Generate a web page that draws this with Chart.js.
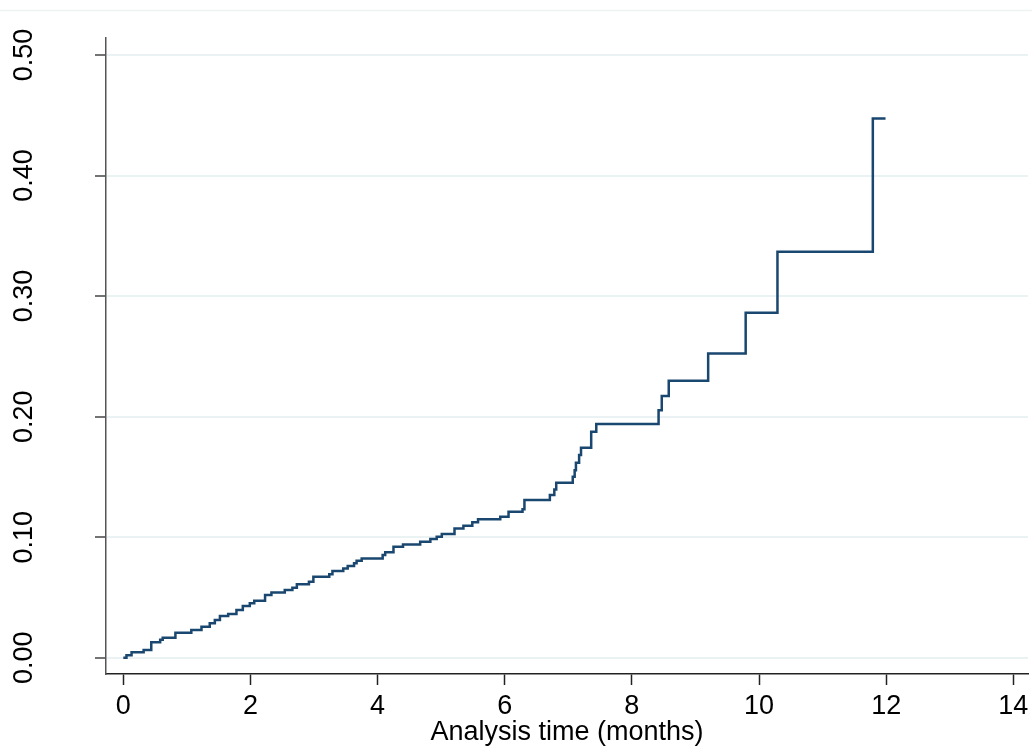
<!DOCTYPE html>
<html>
<head>
<meta charset="utf-8">
<script src="https://cdn.jsdelivr.net/npm/chart.js@4.4.0/dist/chart.umd.min.js"></script>
<style>
  html, body { margin: 0; padding: 0; background: #fff; }
  canvas { display: block; }
</style>
</head>
<body>
<canvas id="kmChart" width="1032" height="747"></canvas>
<script>
// step times (months) and cumulative incidence after each step
const timeMonths = [0, 0.05, 0.13, 0.32, 0.44, 0.58, 0.62, 0.82, 1.07, 1.23,
  1.36, 1.44, 1.52, 1.65, 1.78, 1.88, 1.99, 2.06, 2.23, 2.33,
  2.54, 2.66, 2.73, 2.92, 2.99, 3.24, 3.29, 3.46, 3.53, 3.63,
  3.67, 3.75, 4.08, 4.12, 4.25, 4.40, 4.67, 4.83, 4.93, 5.01,
  5.21, 5.35, 5.49, 5.58, 5.93, 6.06, 6.28, 6.31, 6.71, 6.78,
  6.81, 7.07, 7.10, 7.12, 7.17, 7.20, 7.36, 7.44, 8.42, 8.47,
  8.58, 9.20, 9.79, 10.29, 11.79, 11.99];
const cumIncidence = [0, 0.002, 0.0045, 0.0064, 0.0128, 0.0150, 0.0165, 0.0207, 0.0230, 0.0257,
  0.0285, 0.0313, 0.0346, 0.0362, 0.0396, 0.0429, 0.0451, 0.0473, 0.0520, 0.0542,
  0.0561, 0.0580, 0.0609, 0.0630, 0.0672, 0.0692, 0.0719, 0.0741, 0.0760, 0.0783,
  0.0804, 0.0824, 0.0852, 0.0874, 0.0920, 0.0940, 0.0962, 0.0984, 0.1003, 0.1026,
  0.1073, 0.1095, 0.1123, 0.1148, 0.1169, 0.1211, 0.1231, 0.1308, 0.1349, 0.1396,
  0.1451, 0.1501, 0.1556, 0.1617, 0.1681, 0.1741, 0.1874, 0.1938, 0.2054, 0.2172,
  0.2297, 0.2524, 0.2861, 0.3367, 0.4473, 0.4473];

const xTicks = [0, 2, 4, 6, 8, 10, 12, 14];
const yTicks = [0, 0.1, 0.2, 0.3, 0.4, 0.5];
const yTickLabels = ["0.00", "0.10", "0.20", "0.30", "0.40", "0.50"];
const xTitle = "Analysis time (months)";

const FONT = "'Liberation Sans', Arial, Helvetica, sans-serif";

const points = timeMonths.map((t, i) => ({ x: t, y: cumIncidence[i] }));

// outer frame line + rotated y labels (Stata style)
const stataBits = {
  id: "stataBits",
  beforeDraw(chart) {
    const ctx = chart.ctx;
    ctx.save();
    ctx.strokeStyle = "#edf2f3";
    ctx.lineWidth = 1.5;
    ctx.beginPath();
    ctx.moveTo(0, 10.5);
    ctx.lineTo(chart.width, 10.5);
    ctx.stroke();
    ctx.restore();
  },
  afterDraw(chart) {
    const ctx = chart.ctx;
    const ys = chart.scales.y;
    ctx.save();
    ctx.fillStyle = "#000";
    ctx.font = "27px " + FONT;
    ctx.textAlign = "center";
    ctx.textBaseline = "middle";
    yTicks.forEach((v, i) => {
      const py = ys.getPixelForValue(v);
      ctx.save();
      ctx.translate(25, py);
      ctx.rotate(-Math.PI / 2);
      ctx.fillText(yTickLabels[i], 0, 0);
      ctx.restore();
    });
    ctx.restore();
  }
};

new Chart(document.getElementById("kmChart"), {
  type: "line",
  data: {
    datasets: [{
      data: points,
      stepped: "before",
      borderColor: "#1a476f",
      borderWidth: 2.5,
      pointRadius: 0,
      fill: false
    }]
  },
  options: {
    responsive: false,
    animation: false,
    layout: { padding: { top: 38, right: 4, left: 0, bottom: 0 } },
    plugins: { legend: { display: false }, tooltip: { enabled: false } },
    scales: {
      x: {
        type: "linear",
        min: -0.272,
        max: 14.231,
        afterBuildTicks: s => { s.ticks = xTicks.map(v => ({ value: v })); },
        afterFit: s => { s.height = 73; s.paddingLeft = 0; s.paddingRight = 0; },
        grid: { drawOnChartArea: false, tickLength: 11, tickColor: "#222", tickWidth: 1.5 },
        border: { color: "#222", width: 1.5 },
        ticks: { color: "#000", font: { size: 27, family: FONT }, padding: 5, maxRotation: 0 },
        title: { display: true, text: xTitle, color: "#000", font: { size: 27, family: FONT }, padding: { top: 0, bottom: -2 } }
      },
      y: {
        type: "linear",
        min: -0.0135,
        max: 0.5141,
        afterBuildTicks: s => { s.ticks = yTicks.map(v => ({ value: v })); },
        afterFit: s => { s.width = 106; s.paddingTop = 0; s.paddingBottom = 0; },
        grid: { color: "#eaf2f3", lineWidth: 2, tickLength: 11, tickColor: "#444", tickWidth: 1.5 },
        border: { color: "#555", width: 1.5 },
        ticks: { display: false }
      }
    }
  },
  plugins: [stataBits]
});
</script>
</body>
</html>
